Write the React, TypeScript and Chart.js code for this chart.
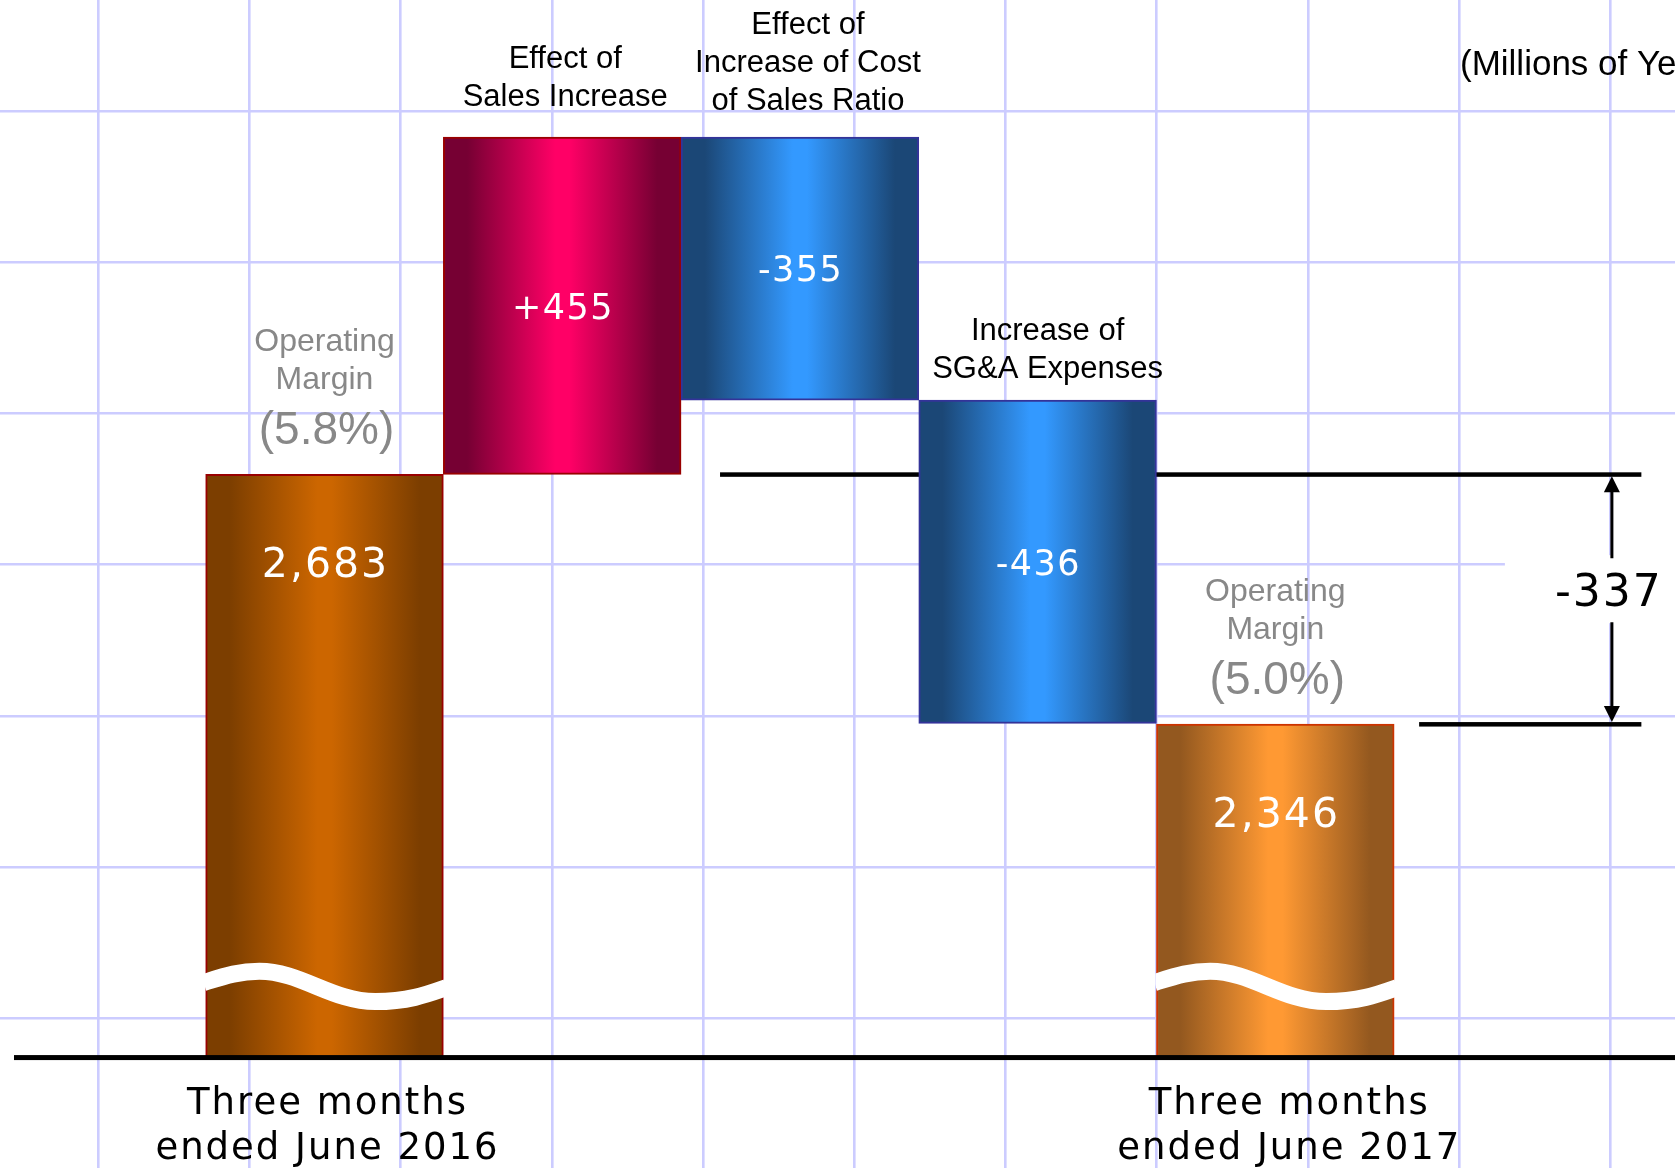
import { useEffect, useRef } from 'react';
import { Chart, registerables } from 'chart.js';

Chart.register(...registerables);

// ---------------- data ----------------
const categoryLines: string[][] = [
  ['Three months', 'ended June 2016'],
  ['Effect of', 'Sales Increase'],
  ['Effect of', 'Increase of Cost', 'of Sales Ratio'],
  ['Increase of', 'SG&A Expenses'],
  ['Three months', 'ended June 2017'],
];
const barKinds = ['total', 'change', 'change', 'change', 'total'];
const barValues = [2683, 455, -355, -436, 2346];
const valueLabels = ['2,683', '+455', '-355', '-436', '2,346'];
const marginTitle = ['Operating', 'Margin'];
const marginLabels = ['(5.8%)', '', '', '', '(5.0%)'];
const unitLabel = '(Millions of Yen)';
const axisBreakValue = 1896; // value where the truncated axis is cut

// ---------------- view / style ----------------
const W = 1675;
const H = 1168;
const viewMin = 1747;
const viewMax = 3323;
const xMin = -1.3652;
const xMax = 5.6815;
const gridX0 = 98.3;
const gridY0 = 111;
const gridStep = 151.2;

const palette: Record<string, { edge: string; mid: string; border: string }> = {
  start: { edge: '#7c3e00', mid: '#cc6600', border: '#990000' },
  up: { edge: '#760033', mid: '#ff0066', border: '#990000' },
  down: { edge: '#1b4776', mid: '#3399ff', border: '#333399' },
  end: { edge: '#93581f', mid: '#ff9933', border: '#cc3300' },
};
const barStyleKeys = ['start', 'up', 'down', 'down', 'end'];
const topLabelShift = [0, 3, 8, 10, 0];
const topLabelGap = [0, 31, 27, 22, 0];
const bottomLabelShift = [2, 0, 0, 0, 13];

// floating bars built from the values
const floatingBars: number[][] = [];
{
  let running = 0;
  barValues.forEach((v, i) => {
    if (barKinds[i] === 'total') {
      floatingBars.push([axisBreakValue, v]);
      running = v;
    } else {
      const next = running + v;
      floatingBars.push([Math.min(running, next), Math.max(running, next)]);
      running = next;
    }
  });
}
const diff = barValues[4] - barValues[0];
const diffLabel = (diff < 0 ? '-' : '+') + Math.abs(diff);

function drawText(
  ctx: CanvasRenderingContext2D,
  s: string,
  x: number,
  y: number,
  font: string,
  color: string,
  align: CanvasTextAlign = 'center',
  spacing = 0
) {
  ctx.font = font;
  ctx.fillStyle = color;
  ctx.textAlign = align;
  ctx.textBaseline = 'alphabetic';
  (ctx as any).letterSpacing = spacing + 'px';
  ctx.fillText(s, x + (align === 'center' ? spacing / 2 : 0), y);
  (ctx as any).letterSpacing = '0px';
}

const ARROW_INDEX = 5.416;

const overlayPlugin = {
  id: 'waterfallOverlay',
  beforeDatasetsDraw(chart: any) {
    const { ctx } = chart;
    const xs = chart.scales.x;
    const ys = chart.scales.y;
    const yA = ys.getPixelForValue(barValues[0]);
    const yB = ys.getPixelForValue(barValues[4]);
    const arrowX = xs.getPixelForValue(ARROW_INDEX);
    const mid = (yA + yB) / 2 - 9;
    ctx.save();
    ctx.fillStyle = '#ffffff';
    ctx.fillRect(arrowX - 107, mid - 35, W - arrowX + 107, 68);
    ctx.fillStyle = '#000';
    const x1 = xs.getPixelForValue(1.664);
    const x2 = xs.getPixelForValue(5.54);
    const x3 = xs.getPixelForValue(4.605);
    ctx.fillRect(x1, yA - 2, x2 - x1, 4.5);
    ctx.fillRect(x3, yB - 2, x2 - x3, 4.5);
    ctx.restore();
  },
  afterDatasetsDraw(chart: any) {
    const { ctx } = chart;
    const xs = chart.scales.x;
    const ys = chart.scales.y;
    const meta = chart.getDatasetMeta(0);
    const baseY = ys.getPixelForValue(axisBreakValue);
    ctx.save();

    // wave breaks on the truncated bars
    meta.data.forEach((el: any, i: number) => {
      if (barKinds[i] !== 'total') return;
      const { x, width } = el.getProps(['x', 'width'], true);
      const L = x - width / 2;
      const B = baseY;
      ctx.save();
      ctx.beginPath();
      ctx.rect(L - 1, B - 140, width + 2, 140);
      ctx.clip();
      ctx.beginPath();
      ctx.moveTo(L - 2, B - 75);
      ctx.bezierCurveTo(L + 0.08 * width, B - 81.5, L + 0.14 * width, B - 86.3, L + 0.226 * width, B - 86.3);
      ctx.bezierCurveTo(L + 0.4 * width, B - 86.3, L + 0.53 * width, B - 56, L + 0.714 * width, B - 56);
      ctx.bezierCurveTo(L + 0.85 * width, B - 56, L + 0.93 * width, B - 63, L + width + 3, B - 70);
      ctx.lineWidth = 17;
      ctx.strokeStyle = '#ffffff';
      ctx.stroke();
      ctx.restore();
    });

    // base line
    ctx.fillStyle = '#000';
    ctx.fillRect(14, baseY - 2.5, W - 14, 5);

    const sans = '"Liberation Sans", Arial, sans-serif';
    const geo = '"DejaVu Sans", sans-serif';

    meta.data.forEach((el: any, i: number) => {
      const { x, y, base } = el.getProps(['x', 'y', 'base'], true);
      const top = Math.min(y, base);
      const bottom = Math.max(y, base);
      if (barKinds[i] === 'total') {
        drawText(ctx, valueLabels[i], x, top + 103, `41px ${geo}`, '#ffffff', 'center', 2);
        drawText(ctx, marginTitle[0], x, top - 123, `32px ${sans}`, '#888888');
        drawText(ctx, marginTitle[1], x, top - 85, `32px ${sans}`, '#888888');
        drawText(ctx, marginLabels[i], x + 2, top - 30, `46px ${sans}`, '#888888');
        const lines = categoryLines[i];
        lines.forEach((s, k) => {
          drawText(ctx, s, x + bottomLabelShift[i], baseY + 56 + k * 45, `37px ${geo}`, '#000', 'center', 2);
        });
      } else {
        const cy = (top + bottom) / 2;
        drawText(ctx, valueLabels[i], x, cy + 12.8, `35px ${geo}`, '#ffffff', 'center', 1.5);
        const lines = categoryLines[i];
        const lastBase = top - topLabelGap[i];
        lines.forEach((s, k) => {
          const yy = lastBase - (lines.length - 1 - k) * 38;
          drawText(ctx, s, x + topLabelShift[i], yy, `31px ${sans}`, '#000');
        });
      }
    });

    // difference arrow
    const yA = ys.getPixelForValue(barValues[0]);
    const yB = ys.getPixelForValue(barValues[4]);
    const ax = xs.getPixelForValue(ARROW_INDEX);
    const mid = (yA + yB) / 2 - 9;
    ctx.strokeStyle = '#000';
    ctx.lineWidth = 3;
    ctx.beginPath();
    ctx.moveTo(ax, yA + 16);
    ctx.lineTo(ax, mid - 32);
    ctx.moveTo(ax, mid + 32);
    ctx.lineTo(ax, yB - 16);
    ctx.stroke();
    ctx.fillStyle = '#000';
    ctx.beginPath();
    ctx.moveTo(ax, yA + 2);
    ctx.lineTo(ax - 8, yA + 18);
    ctx.lineTo(ax + 8, yA + 18);
    ctx.closePath();
    ctx.fill();
    ctx.beginPath();
    ctx.moveTo(ax, yB - 2);
    ctx.lineTo(ax - 8, yB - 18);
    ctx.lineTo(ax + 8, yB - 18);
    ctx.closePath();
    ctx.fill();
    drawText(ctx, diffLabel, ax - 4, mid + 16, `44px ${geo}`, '#000', 'center', 2);

    // unit label (cut by the right edge)
    drawText(ctx, unitLabel, 1460, 75, `35px ${sans}`, '#000', 'left');

    ctx.restore();
  },
};

export default function App() {
  const ref = useRef<HTMLCanvasElement | null>(null);

  useEffect(() => {
    if (!ref.current) return;
    const gridOpts = { color: '#ccccff', lineWidth: 2.6, drawTicks: false, offset: false };
    const chart = new Chart(ref.current, {
      type: 'bar',
      data: {
        datasets: [
          {
            data: floatingBars.map((r, i) => ({ x: i, y: r })) as any,
            borderWidth: 2,
            borderSkipped: false,
            borderColor: barStyleKeys.map((k) => palette[k].border),
            backgroundColor: (c: any) => {
              const p = palette[barStyleKeys[c.dataIndex]] || palette.start;
              const chart = c.chart;
              const xs = chart.scales && chart.scales.x;
              if (!xs || !chart.chartArea) return p.mid;
              const cx = xs.getPixelForValue(c.dataIndex);
              const w = xs.getPixelForValue(c.dataIndex + 1) - cx;
              const g = chart.ctx.createLinearGradient(cx - w / 2, 0, cx + w / 2, 0);
              g.addColorStop(0, p.edge);
              g.addColorStop(0.1, p.edge);
              g.addColorStop(0.47, p.mid);
              g.addColorStop(0.53, p.mid);
              g.addColorStop(0.9, p.edge);
              g.addColorStop(1, p.edge);
              return g;
            },
            barPercentage: 1,
            categoryPercentage: 1,
          } as any,
        ],
      },
      options: {
        responsive: false,
        animation: false,
        devicePixelRatio: 1,
        layout: { padding: 0 },
        plugins: { legend: { display: false }, tooltip: { enabled: false } },
        scales: {
          x: {
            type: 'linear',
            display: false,
            offset: false,
            grid: { offset: false },
            min: xMin,
            max: xMax,
            afterBuildTicks: (s: any) => {
              s.ticks = categoryLines.map((_, i) => ({ value: i }));
            },
          },
          y: {
            type: 'linear',
            display: false,
            min: viewMin,
            max: viewMax,
          },
          xg: {
            type: 'linear',
            position: 'bottom',
            offset: false,
            min: 0,
            max: W,
            ticks: { display: false },
            border: { display: false },
            grid: gridOpts,
            afterBuildTicks: (s: any) => {
              const t = [];
              for (let v = gridX0; v < W; v += gridStep) t.push({ value: v });
              s.ticks = t;
            },
          },
          yg: {
            type: 'linear',
            position: 'left',
            reverse: true,
            offset: false,
            min: 0,
            max: H,
            ticks: { display: false },
            border: { display: false },
            grid: gridOpts,
            afterBuildTicks: (s: any) => {
              const t = [];
              for (let v = gridY0; v < H; v += gridStep) t.push({ value: v });
              s.ticks = t;
            },
          },
        } as any,
      },
      plugins: [overlayPlugin],
    });
    const fonts = (document as any).fonts;
    if (fonts && fonts.load) {
      Promise.all([
        fonts.load('36px "DejaVu Sans"'),
        fonts.load('31px "Liberation Sans"'),
      ])
        .then(() => chart.draw())
        .catch(() => {});
    }
    return () => chart.destroy();
  }, []);

  return (
    <div style={{ position: 'fixed', left: 0, top: 0, width: W, height: H, background: '#fff' }}>
      <canvas ref={ref} width={W} height={H} style={{ display: 'block' }} />
    </div>
  );
}
